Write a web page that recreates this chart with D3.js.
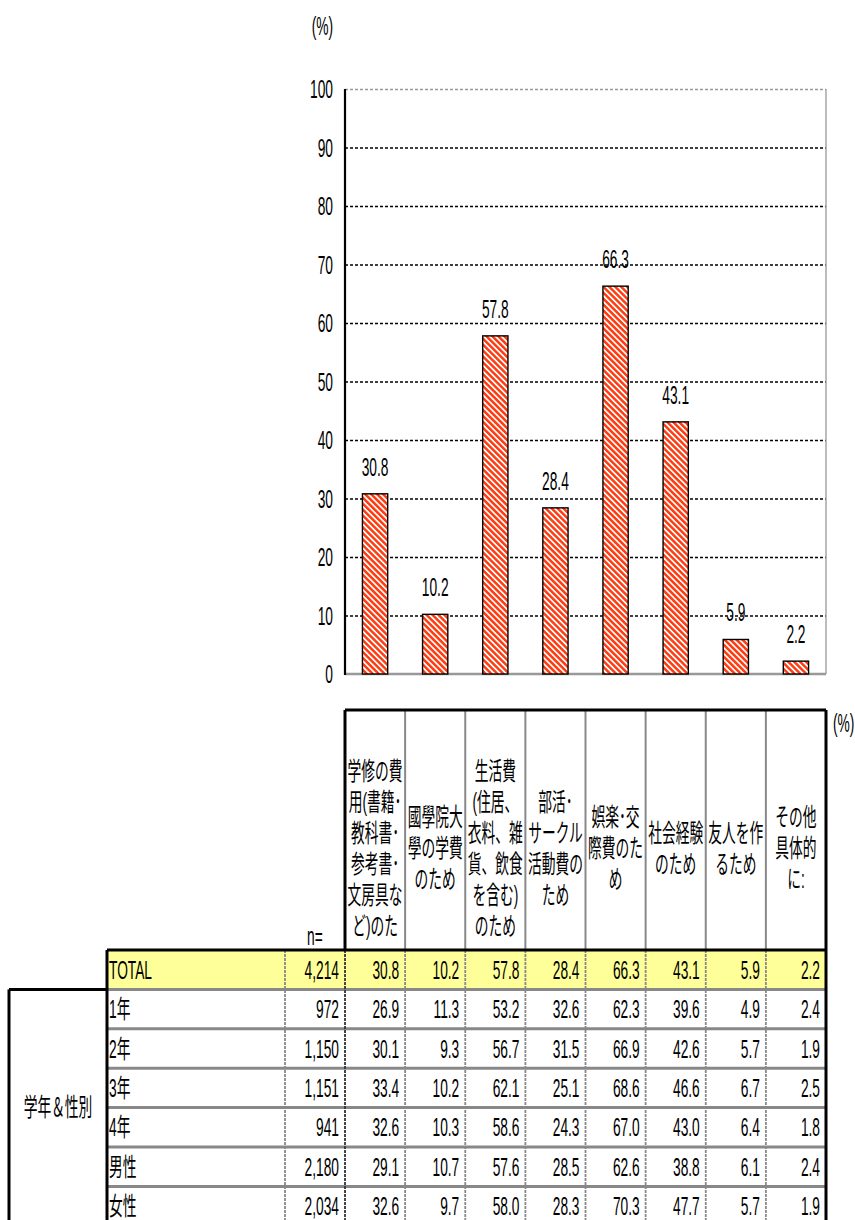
<!DOCTYPE html>
<html>
<head>
<meta charset="utf-8">
<script src="https://cdn.jsdelivr.net/npm/d3@7"></script>
<style>
body { margin: 0; background: #fff; }
text { font-family: "Liberation Sans", "Noto Sans CJK JP", sans-serif; font-size: 25px; fill: #000; }
</style>
</head>
<body>
<div id="chart"></div>
<script>
// header lines of each column (also the bar categories)
var headerLines = [
    ["学修の費", "用(書籍･", "教科書･", "参考書･", "文房具な", "ど)のた"],
    ["國學院大", "學の学費", "のため"],
    ["生活費", "(住居、", "衣料、雑", "貨、飲食", "を含む)", "のため"],
    ["部活･", "サークル", "活動費の", "ため"],
    ["娯楽･交", "際費のた", "め"],
    ["社会経験", "のため"],
    ["友人を作", "るため"],
    ["その他", "具体的", "に:"]
];
var categories = headerLines.map(function (l) { return l.join(""); });
var totalValues = [30.8, 10.2, 57.8, 28.4, 66.3, 43.1, 5.9, 2.2];
var yTicks = [0, 10, 20, 30, 40, 50, 60, 70, 80, 90, 100];

var rowLabels = ["TOTAL", "1年", "2年", "3年", "4年", "男性", "女性"];
var rowN = ["4,214", "972", "1,150", "1,151", "941", "2,180", "2,034"];
var rowValues = [
    [30.8, 10.2, 57.8, 28.4, 66.3, 43.1, 5.9, 2.2],
    [26.9, 11.3, 53.2, 32.6, 62.3, 39.6, 4.9, 2.4],
    [30.1, 9.3, 56.7, 31.5, 66.9, 42.6, 5.7, 1.9],
    [33.4, 10.2, 62.1, 25.1, 68.6, 46.6, 6.7, 2.5],
    [32.6, 10.3, 58.6, 24.3, 67.0, 43.0, 6.4, 1.8],
    [29.1, 10.7, 57.6, 28.5, 62.6, 38.8, 6.1, 2.4],
    [32.6, 9.7, 58.0, 28.3, 70.3, 47.7, 5.7, 1.9]
];
var groupLabel = "学年＆性別";

var SX = 0.55; // text is drawn narrow like the original
var W = 855, H = 1220;
var plot = { left: 345, right: 826, top: 89, bottom: 674 };

var svg = d3.select("#chart").append("svg")
    .attr("width", W)
    .attr("height", H);

function label(g, x, y, txt, anchor) {
    return g.append("text")
        .attr("transform", "translate(" + x + "," + y + ") scale(" + SX + ",1)")
        .attr("text-anchor", anchor || "start")
        .text(txt);
}

// hatch pattern for the bars
var pat = svg.append("defs").append("pattern")
    .attr("id", "hatch")
    .attr("patternUnits", "userSpaceOnUse")
    .attr("width", 4.2).attr("height", 4.2)
    .attr("patternTransform", "rotate(-45)");
pat.append("rect").attr("width", 4.2).attr("height", 4.2).attr("fill", "#fff");
pat.append("rect").attr("width", 2.5).attr("height", 4.2).attr("fill", "#ff3c12");

// scales
var x = d3.scaleBand()
    .domain(categories)
    .range([plot.left, plot.right])
    .paddingInner(0.58)
    .paddingOuter(0.29);

var y = d3.scaleLinear()
    .domain([0, 100])
    .range([plot.bottom, plot.top]);

// gridlines
svg.append("g")
    .attr("transform", "translate(" + plot.left + ",0)")
    .call(d3.axisLeft(y).tickValues(yTicks.slice(1)).tickSize(-(plot.right - plot.left)).tickFormat(""))
    .call(function (g) {
        g.select(".domain").remove();
        g.selectAll(".tick line")
            .attr("stroke", function (d) { return d === 100 ? "#999" : "#000"; })
            .attr("stroke-width", 1.3)
            .attr("stroke-dasharray", "3,2");
    });

// frame
svg.append("line").attr("x1", plot.right).attr("x2", plot.right)
    .attr("y1", plot.top).attr("y2", plot.bottom)
    .attr("stroke", "#999").attr("stroke-width", 1.3);
svg.append("line").attr("x1", plot.left).attr("x2", plot.right)
    .attr("y1", plot.bottom).attr("y2", plot.bottom)
    .attr("stroke", "#999").attr("stroke-width", 2.5);
svg.append("line").attr("x1", plot.left).attr("x2", plot.left)
    .attr("y1", plot.top).attr("y2", plot.bottom + 1)
    .attr("stroke", "#000").attr("stroke-width", 2.2);

// y tick labels
var yl = svg.append("g");
yTicks.forEach(function (t) {
    label(yl, 333, y(t) + 9, String(t), "end");
});
label(svg, 333, 35, "(%)", "end");

// bars
svg.append("g").selectAll("rect")
    .data(totalValues)
    .join("rect")
    .attr("x", function (d, i) { return x(categories[i]); })
    .attr("y", function (d) { return y(d); })
    .attr("width", x.bandwidth())
    .attr("height", function (d) { return y(0) - y(d); })
    .attr("fill", "url(#hatch)")
    .attr("stroke", "#000")
    .attr("stroke-width", 1.4);

var vl = svg.append("g");
totalValues.forEach(function (d, i) {
    label(vl, x(categories[i]) + x.bandwidth() / 2, y(d) - 18, d.toFixed(1), "middle");
});

// ---- table ----
var step = x.step();
function colLeft(i) { return x(categories[i]) - (step - x.bandwidth()) / 2; }

var headTop = 710, headBottom = 950, rowH = 39.4;
var labelLeft = 107, nLeft = 285, groupLeft = 9;
var tableBottom = headBottom + rowH * rowLabels.length;

var tb = svg.append("g");

// TOTAL row fill
tb.append("rect")
    .attr("x", labelLeft).attr("y", headBottom)
    .attr("width", plot.right - labelLeft).attr("height", rowH)
    .attr("fill", "#ffff99");

// header column separators
for (var i = 1; i < categories.length; i++) {
    tb.append("line")
        .attr("x1", colLeft(i)).attr("x2", colLeft(i))
        .attr("y1", headTop).attr("y2", headBottom)
        .attr("stroke", "#888").attr("stroke-width", 2);
}

// body row separators
for (var r = 1; r < rowLabels.length; r++) {
    tb.append("line")
        .attr("x1", labelLeft).attr("x2", plot.right)
        .attr("y1", headBottom + r * rowH).attr("y2", headBottom + r * rowH)
        .attr("stroke", "#888").attr("stroke-width", 3);
}

// body column separators
var bodyCols = [nLeft];
for (var i = 1; i < categories.length; i++) bodyCols.push(colLeft(i));
bodyCols.forEach(function (cx) {
    tb.append("line")
        .attr("x1", cx).attr("x2", cx)
        .attr("y1", headBottom).attr("y2", tableBottom)
        .attr("stroke", "#888").attr("stroke-width", 1.8)
        .attr("stroke-dasharray", "3,1");
});
tb.append("line")
    .attr("x1", plot.left).attr("x2", plot.left)
    .attr("y1", headBottom).attr("y2", tableBottom)
    .attr("stroke", "#333").attr("stroke-width", 1.8)
    .attr("stroke-dasharray", "3,1");

// thick black outlines
var thick = [
    [plot.left, headTop, plot.right, headTop],
    [plot.left, headTop, plot.left, headBottom],
    [plot.right, headTop, plot.right, tableBottom],
    [labelLeft, headBottom, plot.right, headBottom],
    [labelLeft, headBottom, labelLeft, tableBottom],
    [groupLeft, headBottom + rowH, labelLeft, headBottom + rowH],
    [groupLeft, headBottom + rowH, groupLeft, tableBottom]
];
thick.forEach(function (l) {
    tb.append("line")
        .attr("x1", l[0]).attr("y1", l[1]).attr("x2", l[2]).attr("y2", l[3])
        .attr("stroke", "#000").attr("stroke-width", 3);
});

// header text
headerLines.forEach(function (lines, i) {
    var cx = colLeft(i) + step / 2;
    lines.forEach(function (s, k) {
        var cy = 849 + (k - (lines.length - 1) / 2) * 31;
        label(tb, cx, cy + 8, s, "middle");
    });
});
label(tb, 307, 945, "n=", "start");
label(tb, 833, 732, "(%)", "start");

// body text
rowLabels.forEach(function (name, r) {
    var by = headBottom + r * rowH + rowH / 2 + 9;
    label(tb, 109, by, name, "start");
    label(tb, plot.left - 6, by, rowN[r], "end");
    rowValues[r].forEach(function (v, i) {
        label(tb, colLeft(i) + step - 6, by, v.toFixed(1), "end");
    });
});
label(tb, (groupLeft + labelLeft) / 2, headBottom + rowH + (tableBottom - headBottom - rowH) / 2 + 8, groupLabel, "middle");
</script>
</body>
</html>
